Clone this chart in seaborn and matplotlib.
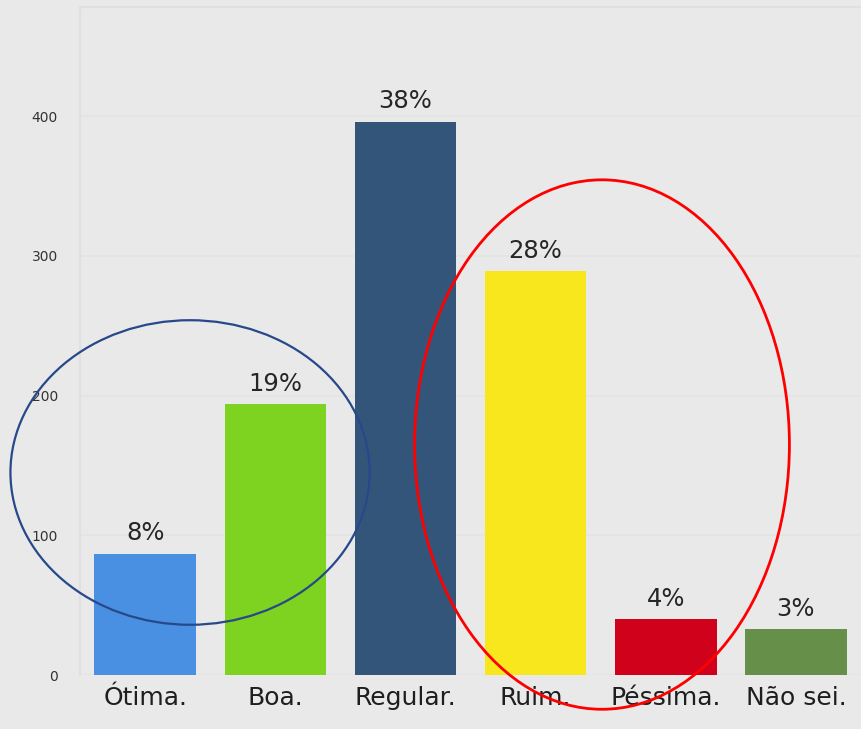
import numpy as np
import pandas as pd
import seaborn as sns
from matplotlib import pyplot as plt
from matplotlib.patches import Ellipse

categories = ['Ótima.', 'Boa.', 'Regular.', 'Ruim.', 'Péssima.', 'Não sei.']
counts = [87, 194, 396, 289, 40, 33]
percent_labels = ['8%', '19%', '38%', '28%', '4%', '3%']
bar_colors = ['#4a90e2', '#7ed321', '#34557a', '#f8e71c', '#d0021b', '#668f4a']
y_ticks = [0, 100, 200, 300, 400]

df = pd.DataFrame({'categoria': categories, 'total': counts})

sns.set_theme(style='whitegrid')
plt.rcParams['font.family'] = ['DejaVu Sans']

fig = plt.figure(figsize=(8.61, 7.29), dpi=100)
fig.patch.set_facecolor('#e9e9e9')
ax = fig.add_axes([0.093, 0.074, 0.907, 0.916])
ax.set_facecolor('#e9e9e9')

sns.barplot(data=df, x='categoria', y='total', hue='categoria', palette=bar_colors,
            legend=False, width=0.78, saturation=1, linewidth=0, ax=ax)

for i, (v, lab) in enumerate(zip(counts, percent_labels)):
    ax.text(i, v + 6, lab, ha='center', va='bottom', fontsize=17.5, color='#262626')

ax.set_xlim(-0.5, 5.5)
ax.set_ylim(0, 478)
ax.set_yticks(y_ticks)
ax.set_xlabel('')
ax.set_ylabel('')
ax.tick_params(axis='y', labelsize=10, colors='#333333', pad=16, length=0)
ax.tick_params(axis='x', labelsize=18, colors='#1e1e1e', pad=8, length=0)
ax.grid(axis='y', color='#e3e3e3', linewidth=1.2)
ax.grid(axis='x', visible=False)
for side in ['right', 'bottom']:
    ax.spines[side].set_visible(False)
for side in ['left', 'top']:
    ax.spines[side].set_color('#e0e0e0')
    ax.spines[side].set_linewidth(1.5)

# annotation ellipses
ax.add_patch(Ellipse((0.345, 145), 2.76, 218, fill=False, edgecolor='#27488a',
                     linewidth=1.6, clip_on=False, zorder=5))
ax.add_patch(Ellipse((3.51, 165), 2.88, 379, fill=False, edgecolor='#ff0000',
                     linewidth=2, clip_on=False, zorder=5))

plt.savefig('out.png', dpi=100, facecolor=fig.get_facecolor())
